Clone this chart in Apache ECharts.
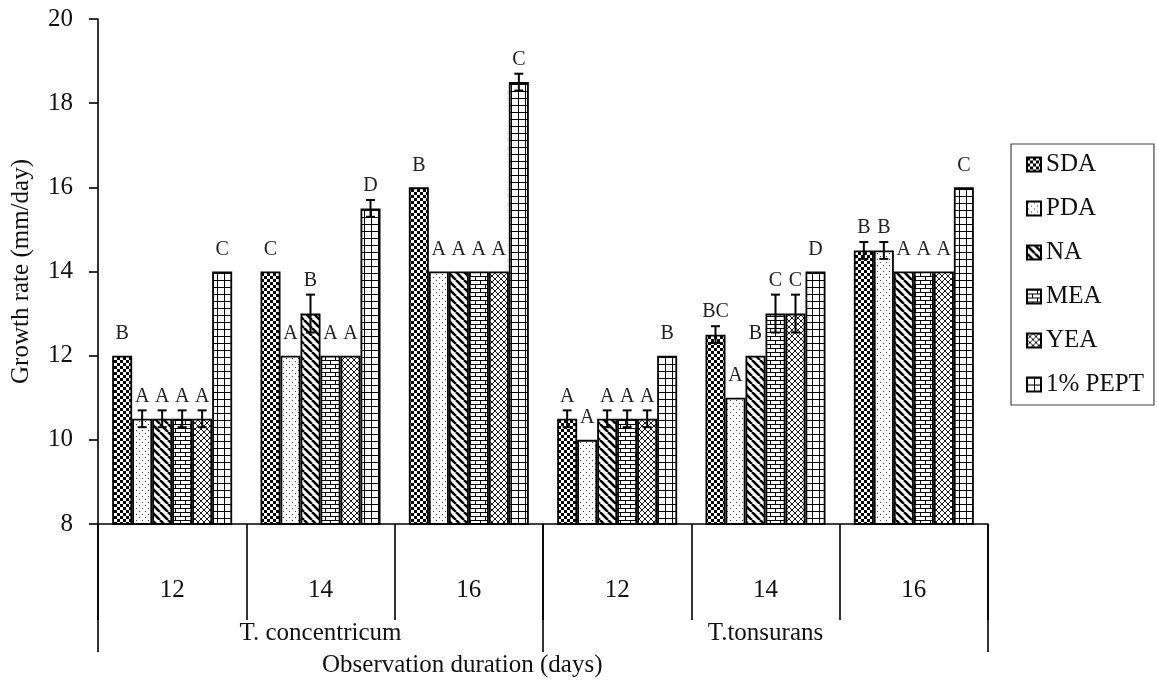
<!DOCTYPE html>
<html>
<head>
<meta charset="utf-8">
<script src="https://cdn.jsdelivr.net/npm/echarts@6/dist/echarts.min.js"></script>
<style>html,body{margin:0;padding:0;background:#fff}#c{width:1157px;height:681px}</style>
</head>
<body>
<div id="c"></div>
<script>
// ---- data ----
const days = ['12', '14', '16', '12', '14', '16'];
const species = ['T. concentricum', 'T.tonsurans'];
const seriesNames = ['SDA', 'PDA', 'NA', 'MEA', 'YEA', '1% PEPT'];
const yTicks = [8, 10, 12, 14, 16, 18, 20];
const xTitle = 'Observation duration (days)';
const yTitle = 'Growth rate (mm/day)';

const sdaValues  = [12, 14, 16, 10.5, 12.5, 14.5];
const pdaValues  = [10.5, 12, 14, 10, 11, 14.5];
const naValues   = [10.5, 13, 14, 10.5, 12, 14];
const meaValues  = [10.5, 12, 14, 10.5, 13, 14];
const yeaValues  = [10.5, 12, 14, 10.5, 13, 14];
const peptValues = [14, 15.5, 18.5, 12, 14, 16];

const sdaErr  = [0, 0, 0, 0.2, 0.2, 0.2];
const pdaErr  = [0.2, 0, 0, 0, 0, 0.2];
const naErr   = [0.2, 0.45, 0, 0.2, 0, 0];
const meaErr  = [0.2, 0, 0, 0.2, 0.45, 0];
const yeaErr  = [0.2, 0, 0, 0.2, 0.45, 0];
const peptErr = [0, 0.2, 0.2, 0, 0, 0];

const sdaLetters  = ['B', 'C', 'B', 'A', 'BC', 'B'];
const pdaLetters  = ['A', 'A', 'A', 'A', 'A', 'B'];
const naLetters   = ['A', 'B', 'A', 'A', 'B', 'A'];
const meaLetters  = ['A', 'A', 'A', 'A', 'C', 'A'];
const yeaLetters  = ['A', 'A', 'A', 'A', 'C', 'A'];
const peptLetters = ['C', 'D', 'C', 'B', 'D', 'C'];

const allValues = [sdaValues, pdaValues, naValues, meaValues, yeaValues, peptValues];
const allErr = [sdaErr, pdaErr, naErr, meaErr, yeaErr, peptErr];
const allLetters = [sdaLetters, pdaLetters, naLetters, meaLetters, yeaLetters, peptLetters];

// ---- patterns ----
function tile(w, h, draw) {
  const c = document.createElement('canvas');
  c.width = w; c.height = h;
  const g = c.getContext('2d');
  g.fillStyle = '#fff'; g.fillRect(0, 0, w, h);
  g.fillStyle = '#000'; g.strokeStyle = '#000';
  draw(g);
  return { image: c, repeat: 'repeat' };
}
const patterns = [
  tile(6, 6, g => { g.fillRect(0, 0, 3, 3); g.fillRect(3, 3, 3, 3); }),
  tile(6, 6, g => { g.fillStyle = '#444'; g.fillRect(1, 1, 1, 1); g.fillRect(4, 4, 1, 1); }),
  tile(8, 8, g => { g.lineWidth = 2.6; [-8, 0, 8].forEach(o => { g.beginPath(); g.moveTo(o, 0); g.lineTo(o + 8, 8); g.stroke(); }); }),
  tile(10, 8, g => { g.fillRect(0, 0, 10, 1); g.fillRect(0, 4, 10, 1); g.fillRect(0, 0, 1, 4); g.fillRect(5, 4, 1, 4); }),
  tile(6, 6, g => { g.lineWidth = 0.9; [-6, 0, 6].forEach(o => { g.beginPath(); g.moveTo(o, 0); g.lineTo(o + 6, 6); g.stroke(); g.beginPath(); g.moveTo(o + 6, 0); g.lineTo(o, 6); g.stroke(); }); }),
  tile(7, 7, g => { g.fillRect(0, 0, 7, 1); g.fillRect(0, 0, 1, 7); })
];

const FONT = 'Liberation Serif';
const FS = 25;
const BAR_W = 20;

const series = [];
seriesNames.forEach((name, s) => {
  series.push({
    name: name,
    type: 'bar',
    xAxisIndex: 0,
    barWidth: BAR_W,
    barGap: '0%',
    data: allValues[s],
    itemStyle: { color: patterns[s], borderColor: '#000', borderWidth: 1.8 },
    emphasis: { disabled: true },
    z: 2
  });
});
seriesNames.forEach((name, s) => {
  series.push({
    name: 'err_' + name,
    type: 'custom',
    xAxisIndex: 0,
    z: 5,
    data: allValues[s].map((v, i) => [i, v, allErr[s][i]]),
    renderItem: function (params, api) {
      const i = api.value(0), v = api.value(1), e = api.value(2);
      const base = api.coord([i, v]);
      const x = base[0] + (s - 2.5) * BAR_W;
      const children = [];
      let topY = base[1];
      if (e > 0) {
        const hi = api.coord([i, v + e])[1];
        const lo = api.coord([i, v - e])[1];
        const ls = { stroke: '#000', lineWidth: 2 };
        children.push({ type: 'line', shape: { x1: x, y1: hi, x2: x, y2: lo }, style: ls });
        children.push({ type: 'line', shape: { x1: x - 4.5, y1: hi, x2: x + 4.5, y2: hi }, style: ls });
        children.push({ type: 'line', shape: { x1: x - 4.5, y1: lo, x2: x + 4.5, y2: lo }, style: ls });
        topY = hi - 14;
      } else {
        topY = base[1] - 22;
      }
      children.push({
        type: 'text',
        style: { text: allLetters[s][params.dataIndex], x: x, y: topY, textAlign: 'center', textVerticalAlign: 'middle', font: '20px "' + FONT + '"', fill: '#222' }
      });
      return { type: 'group', children: children };
    }
  });
});

const chart = echarts.init(document.getElementById('c'), null, { renderer: 'canvas' });
chart.setOption({
  backgroundColor: '#fff',
  animation: false,
  textStyle: { fontFamily: FONT, color: '#000' },
  grid: { left: 98, right: 169, top: 19, bottom: 157, containLabel: false, outerBoundsMode: 'none' },
  legend: {
    data: seriesNames,
    orient: 'vertical',
    left: 1011, top: 144,
    padding: [8, 10, 8, 15],
    itemGap: 19,
    itemWidth: 14, itemHeight: 14,
    borderColor: '#444', borderWidth: 1.2,
    icon: 'rect',
    itemStyle: { borderColor: '#000', borderWidth: 2 },
    textStyle: { fontFamily: FONT, fontSize: FS, color: '#111' },
    selectedMode: false
  },
  graphic: [{
    type: 'text',
    left: 322, top: 653,
    style: { text: xTitle, font: FS + 'px "' + FONT + '"', fill: '#111' }
  }],
  xAxis: [
    {
      type: 'category',
      data: days,
      position: 'bottom',
      axisLine: { show: true, lineStyle: { color: '#000', width: 1.6 } },
      axisTick: { show: true, length: 96, lineStyle: { color: '#000', width: 1.6 } },
      axisLabel: { margin: 54, fontFamily: FONT, fontSize: FS, color: '#111' },
      splitLine: { show: false }
    },
    {
      type: 'category',
      data: species,
      position: 'bottom',
      axisLine: { show: false },
      axisTick: { show: true, length: 128, lineStyle: { color: '#000', width: 1.6 } },
      axisLabel: { margin: 97, fontFamily: FONT, fontSize: FS, color: '#111' },
      splitLine: { show: false }
    }
  ],
  yAxis: {
    type: 'value',
    min: yTicks[0], max: yTicks[yTicks.length - 1], interval: 2,
    axisLine: { show: true, lineStyle: { color: '#000', width: 1.6 } },
    axisTick: { show: true, length: 9, lineStyle: { color: '#000', width: 1.6 } },
    axisLabel: { margin: 25, fontFamily: FONT, fontSize: FS, color: '#111' },
    splitLine: { show: false },
    name: yTitle,
    nameLocation: 'middle',
    nameGap: 64,
    nameTextStyle: { fontFamily: FONT, fontSize: FS, color: '#111' }
  },
  series: series
});
</script>
</body>
</html>
